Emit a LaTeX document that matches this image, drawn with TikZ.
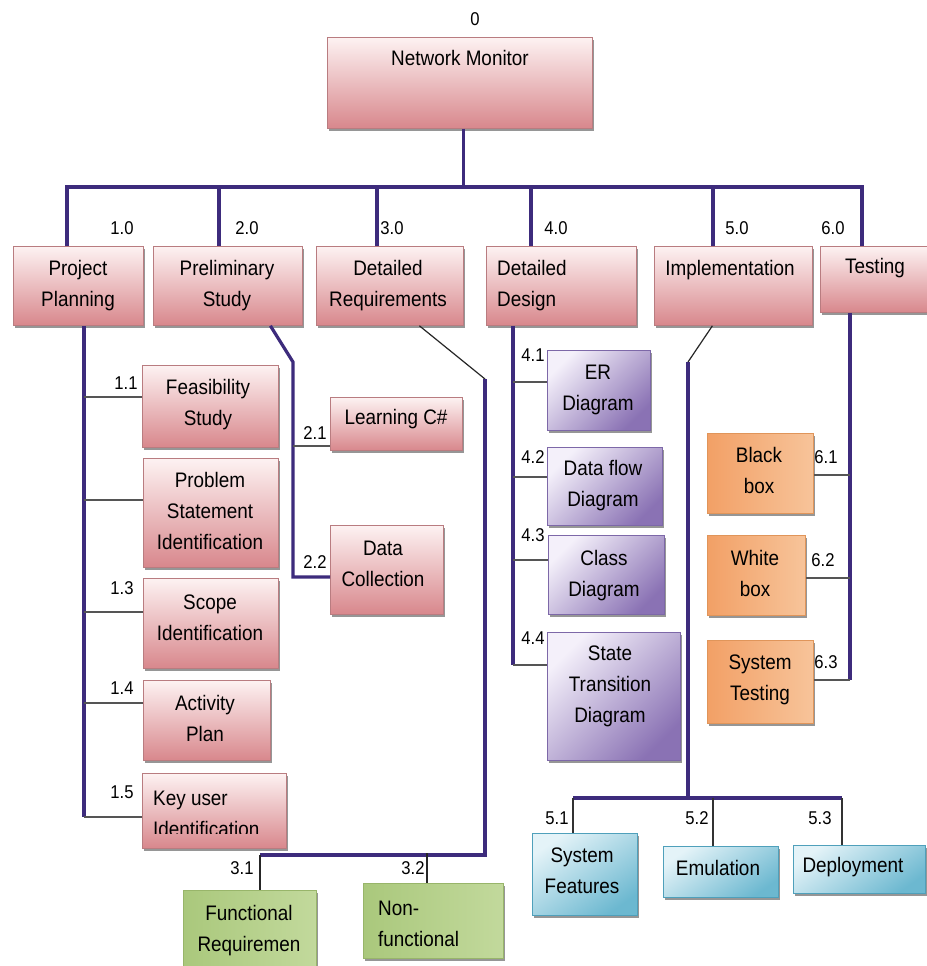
\documentclass[tikz,border=0pt]{standalone}
\usepackage{fontspec}
\setmainfont{Liberation Sans}[FakeStretch=0.9]
\usetikzlibrary{shadows}

% box fills and outlines
\definecolor{redA}{HTML}{FDF2F2}
\definecolor{redB}{HTML}{D8878C}
\definecolor{redE}{HTML}{B97C80}
\definecolor{purA}{HTML}{F4F0FA}
\definecolor{purB}{HTML}{8A72B4}
\definecolor{purE}{HTML}{7D68A8}
\definecolor{orgA}{HTML}{F2A066}
\definecolor{orgM}{HTML}{FDEBDB}
\definecolor{orgB}{HTML}{F7C49A}
\definecolor{orgE}{HTML}{E0955A}
\definecolor{cyaA}{HTML}{E4F3F8}
\definecolor{cyaB}{HTML}{6CB8D0}
\definecolor{cyaE}{HTML}{4FA0BB}
\definecolor{grnA}{HTML}{AAC87C}
\definecolor{grnM}{HTML}{EEF4DD}
\definecolor{grnB}{HTML}{C2D99C}
\definecolor{grnE}{HTML}{98B56A}
% connector colours
\definecolor{treeC}{HTML}{3D2B7C}
\definecolor{twigC}{HTML}{555555}

% a box given by its corners: name, style, x1, y1, x2, y2
\newcommand\wbs[6]{\node[#2, anchor=north west,
  minimum width={(#5)-(#3)}, minimum height={(#6)-(#4)}] (#1) at (#3,#4) {};}

\begin{document}
\begin{tikzpicture}[x=1pt,y=-1pt,
  box/.style={draw=#1, line width=0.8pt, rectangle, inner sep=0pt,
    drop shadow={shadow xshift=1.5pt, shadow yshift=-3pt, fill=black!55, opacity=0.75}},
  redbox/.style={box=redE, top color=redA, bottom color=redB},
  purbox/.style={box=purE, top color=purA, bottom color=purB, shading angle=45},
  orgbox/.style={box=orgE, left color=orgA, middle color=orgM, right color=orgB},
  cyabox/.style={box=cyaE, top color=cyaA, bottom color=cyaB, shading angle=35},
  grnbox/.style={box=grnE, left color=grnA, middle color=grnM, right color=grnB},
  lbl/.style={font=\fontsize{21}{31}\selectfont, align=center, inner sep=0pt,
    anchor=north, yshift=-6.5pt},
  lbll/.style={lbl, align=left, anchor=north west},
  num/.style={font=\fontsize{18.5}{20}\selectfont, inner sep=0pt},
  tree/.style={draw=treeC, line width=3.2pt},
  twig/.style={draw=twigC, line width=2.6pt},
  thinl/.style={draw=black!85, line width=1.2pt},
  dropl/.style={draw=black!80, line width=2pt},
]
\fill[white] (0,0) rectangle (926,966);
\useasboundingbox (0,0) rectangle (926,966);

% ---------- boxes ----------
\wbs{root}{redbox}{327}{37}{592}{128}
\wbs{pp}{redbox}{13}{246}{143}{325}
\wbs{ps}{redbox}{153}{246}{302}{325}
\wbs{dr}{redbox}{316}{246}{463}{325}
\wbs{dd}{redbox}{486}{246}{636}{325}
\wbs{im}{redbox}{654}{246}{812}{325}
\wbs{ts}{redbox}{820}{246}{928}{312}

\wbs{fs}{redbox}{142}{365}{278}{447}
\wbs{psi}{redbox}{143}{458}{278}{567}
\wbs{sc}{redbox}{143}{578}{278}{668}
\wbs{ap}{redbox}{143}{680}{270}{760}
\wbs{ku}{redbox}{142}{773}{286}{848}

\wbs{lc}{redbox}{330}{397}{462}{450}
\wbs{dc}{redbox}{330}{525}{443}{614}

\wbs{er}{purbox}{547}{350}{650}{430}
\wbs{df}{purbox}{547}{447}{662}{525}
\wbs{cd}{purbox}{548}{535}{664}{614}
\wbs{std}{purbox}{547}{632}{680}{760}

\wbs{bb}{orgbox}{707}{433}{813}{513}
\wbs{wb}{orgbox}{707}{535}{805}{615}
\wbs{stt}{orgbox}{707}{640}{813}{723}

\wbs{sf}{cyabox}{532}{833}{637}{915}
\wbs{em}{cyabox}{663}{846}{778}{897}
\wbs{dp}{cyabox}{793}{845}{925}{893}

\wbs{fr}{grnbox}{183}{890}{316}{985}
\wbs{nf}{grnbox}{363}{883}{503}{958}

% ---------- box texts ----------
\node[lbl] (root-t) at (460,44) {Network Monitor};
\node[lbl] (pp-t) at (78,254) {Project\\Planning};
\node[lbl] (ps-t) at (227,254) {Preliminary\\Study};
\node[lbl] (dr-t) at (388,254) {Detailed\\Requirements};
\node[lbll] (dd-t) at (497,254) {Detailed\\Design};
\node[lbl] (im-t) at (730,254) {Implementation};
\node[lbl] (ts-t) at (875,252) {Testing};

\node[lbl] (fs-t) at (208,373) {Feasibility\\Study};
\node[lbl] (psi-t) at (210,466) {Problem\\Statement\\Identification};
\node[lbl] (sc-t) at (210,588) {Scope\\Identification};
\node[lbl] (ap-t) at (205,689) {Activity\\Plan};
\begin{scope}
  \clip (142,773) rectangle (286,833);
  \node[lbll] (ku-t) at (153,784) {Key user\\Identification};
\end{scope}

\node[lbl] (lc-t) at (396,403) {Learning C\#};
\node[lbl] (dc-t) at (383,534) {Data\\Collection};

\node[lbl] (er-t) at (598,358) {ER\\Diagram};
\node[lbl] (df-t) at (603,454) {Data flow\\Diagram};
\node[lbl] (cd-t) at (604,544) {Class\\Diagram};
\node[lbl] (std-t) at (610,639) {State\\Transition\\Diagram};

\node[lbl] (bb-t) at (759,441) {Black\\box};
\node[lbl] (wb-t) at (755,544) {White\\box};
\node[lbl] (stt-t) at (760,648) {System\\Testing};

\node[lbl] (sf-t) at (582,841) {System\\Features};
\node[lbl] (em-t) at (718,854) {Emulation};
\node[lbl] (dp-t) at (853,851) {Deployment};

\node[lbl] (fr-t) at (249,899) {Functional\\Requiremen};
\node[lbll] (nf-t) at (378,894) {Non-\\functional};

% ---------- numbering ----------
\node[num] (n0) at (475,19) {0};
\node[num] (n10) at (122,228) {1.0};
\node[num] (n20) at (247,228) {2.0};
\node[num] (n30) at (392,228) {3.0};
\node[num] (n40) at (556,228) {4.0};
\node[num] (n50) at (737,228) {5.0};
\node[num] (n60) at (833,228) {6.0};
\node[num] (n11) at (126,383) {1.1};
\node[num] (n13) at (122,588) {1.3};
\node[num] (n14) at (122,688) {1.4};
\node[num] (n15) at (122,792) {1.5};
\node[num] (n21) at (315,433) {2.1};
\node[num] (n22) at (315,562) {2.2};
\node[num] (n31) at (242,868) {3.1};
\node[num] (n32) at (413,868) {3.2};
\node[num] (n41) at (533,355) {4.1};
\node[num] (n42) at (533,457) {4.2};
\node[num] (n43) at (533,535) {4.3};
\node[num] (n44) at (533,638) {4.4};
\node[num] (n61) at (826,457) {6.1};
\node[num] (n62) at (823,560) {6.2};
\node[num] (n63) at (826,662) {6.3};
\node[num] (n51) at (557,818) {5.1};
\node[num] (n52) at (697,818) {5.2};
\node[num] (n53) at (820,818) {5.3};

% ---------- junction points ----------
\coordinate (b1) at (67,187);
\coordinate (b2) at (219,187);
\coordinate (b3) at (377,187);
\coordinate (b4) at (531,187);
\coordinate (b5) at (713,187);
\coordinate (b6) at (862,187);

\coordinate (p1) at (84,397);
\coordinate (p2) at (84,500);
\coordinate (p3) at (84,612);
\coordinate (p4) at (84,703);
\coordinate (p5) at (84,817);

\coordinate (q0) at (293,362);
\coordinate (q1) at (293,446);
\coordinate (q2) at (293,577);

\coordinate (r0) at (485,379);
\coordinate (r1) at (485,855);
\coordinate (r2) at (260,855);
\coordinate (r3) at (427,853);

\coordinate (d1) at (513,382);
\coordinate (d2) at (513,477);
\coordinate (d3) at (513,560);
\coordinate (d4) at (513,665);

\coordinate (i0) at (688,362);
\coordinate (i1) at (688,798);
\coordinate (i2) at (573,798);
\coordinate (i4) at (713,798);
\coordinate (i3) at (842,798);

\coordinate (t1) at (850,475);
\coordinate (t2) at (850,578);
\coordinate (t3) at (850,680);

% ---------- level 0 to level 1 ----------
\draw[tree] ([xshift=3.5pt]root.south) -- ([xshift=3.5pt]root.south |- b1);
\draw[tree] (pp.north -| b1) -- (b1) -- (b6) -- (ts.north -| b6);
\draw[tree] (b2) -- (ps.north -| b2);
\draw[tree] (b3) -- (dr.north -| b3);
\draw[tree] (b4) -- (dd.north -| b4);
\draw[tree] (b5) -- (im.north -| b5);

% ---------- project planning ----------
\draw[tree] (pp.south -| p1) -- (p5);
\draw[twig] (p1) -- (fs.west |- p1);
\draw[twig] (p2) -- (psi.west |- p2);
\draw[twig] (p3) -- (sc.west |- p3);
\draw[twig] (p4) -- (ap.west |- p4);
\draw[twig] (p5) -- (ku.west |- p5);

% ---------- preliminary study ----------
\draw[tree] ([xshift=42.5pt]ps.south) -- (q0) -- (q2) -- (dc.west |- q2);
\draw[twig] (q1) -- (lc.west |- q1);

% ---------- detailed requirements ----------
\draw[thinl] ([xshift=29.5pt]dr.south) -- (r0);
\draw[tree] (r0) -- (r1) -- (r2);
\draw[thinl] (r2) -- (fr.north -| r2);
\draw[thinl] (r3) -- (nf.north -| r3);

% ---------- detailed design ----------
\draw[tree] (dd.south -| d1) -- (d4);
\draw[twig] (d1) -- (er.west |- d1);
\draw[twig] (d2) -- (df.west |- d2);
\draw[twig] (d3) -- (cd.west |- d3);
\draw[twig] (d4) -- (std.west |- d4);

% ---------- implementation ----------
\draw[thinl] ([xshift=-21pt]im.south) -- (i0);
\draw[tree] (i0) -- (i1);
\draw[tree] (i2) -- (i3);
\draw[dropl] (i2) -- (sf.north -| i2);
\draw[dropl] (i4) -- (em.north -| i4);
\draw[dropl] (i3) -- (dp.north -| i3);

% ---------- testing ----------
\draw[tree] (ts.south -| t1) -- (t3);
\draw[twig] (t1) -- (bb.east |- t1);
\draw[twig] (t2) -- (wb.east |- t2);
\draw[twig] (t3) -- (stt.east |- t3);
\end{tikzpicture}
\end{document}
